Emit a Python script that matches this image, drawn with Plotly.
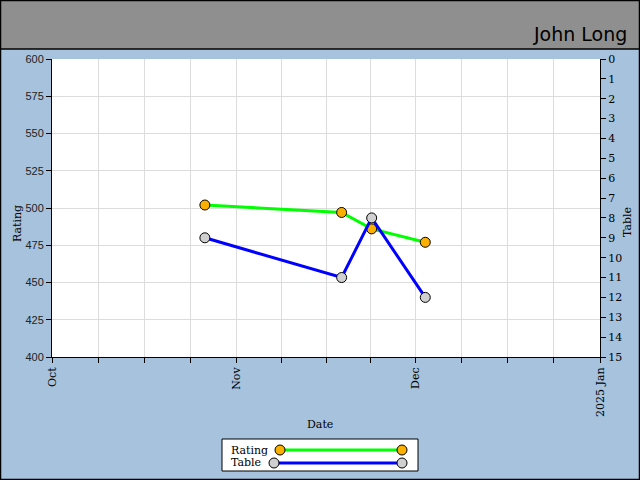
import plotly.graph_objects as go

# ---- data ----
dates = ["2024-10-26 16:00", "2024-11-18 15:00", "2024-11-23 16:00", "2024-12-02 16:00"]
rating = [502, 497, 486, 477]
table = [9, 11, 8, 12]

x_tickvals = ["2024-10-01", "2024-10-08 18:00", "2024-10-16 12:00", "2024-10-24 06:00",
              "2024-11-01", "2024-11-08 12:00", "2024-11-16", "2024-11-23 12:00",
              "2024-12-01", "2024-12-08 18:00", "2024-12-16 12:00", "2024-12-24 06:00",
              "2025-01-01"]
x_ticktext = ["Oct", "", "", "", "Nov", "", "", "", "Dec", "", "", "", "2025 Jan"]
title_text = "John Long"

# ---- geometry helpers (pixel -> paper) ----
W, H = 640, 480
L, R, T, B = 52, 40, 59, 123
PW, PH = W - L - R, H - T - B
def px(x): return (x - L) / PW
def py(y): return (H - B - y) / PH

BG = "#a6c2dc"
SERIF = "DejaVu Serif"
SANS = "Liberation Sans"
GREEN, BLUE = "#00ff00", "#0000ff"
ORANGE, GREY = "#fbb000", "#d0d0d0"

fig = go.Figure()
fig.add_trace(go.Scatter(x=dates, y=rating, mode="lines+markers", name="Rating",
                         line=dict(color=GREEN, width=3),
                         marker=dict(size=10, color=ORANGE, line=dict(color="black", width=1)),
                         yaxis="y"))
fig.add_trace(go.Scatter(x=dates, y=table, mode="lines+markers", name="Table",
                         line=dict(color=BLUE, width=3),
                         marker=dict(size=10, color=GREY, line=dict(color="black", width=1)),
                         yaxis="y2"))

fig.update_layout(
    width=W, height=H,
    margin=dict(l=L, r=R, t=T, b=B, pad=0, autoexpand=False),
    paper_bgcolor=BG, plot_bgcolor="white",
    showlegend=False,
    xaxis=dict(type="date", range=["2024-10-01", "2025-01-01"], automargin=False,
               tickmode="array", tickvals=x_tickvals, ticktext=x_ticktext,
               tickangle=-90, ticks="outside", ticklen=5, tickcolor="black",
               tickfont=dict(family=SERIF, size=11, color="black"),
               showline=True, linecolor="black", linewidth=1,
               showgrid=True, gridcolor="#dcdcdc", gridwidth=1, zeroline=False),
    yaxis=dict(range=[400, 600], dtick=25, tick0=400, ticks="outside", ticklen=5,
               automargin=False,
               tickcolor="black", tickfont=dict(family=SANS, size=11, color="#222"),
               showline=True, linecolor="black", linewidth=1,
               showgrid=True, gridcolor="#dcdcdc", zeroline=False),
    yaxis2=dict(range=[15, 0], dtick=1, tick0=0, overlaying="y", side="right",
                automargin=False,
                ticks="outside", ticklen=5, tickcolor="black",
                tickfont=dict(family=SERIF, size=11, color="black"),
                showline=True, linecolor="black", linewidth=1,
                showgrid=False, zeroline=False),
)

shapes = [
    # title bar
    dict(type="rect", xref="paper", yref="paper", x0=px(0), x1=px(640), y0=py(49), y1=py(0),
         fillcolor="#8f8f8f", line=dict(width=0), layer="below"),
    dict(type="line", xref="paper", yref="paper", x0=px(0), x1=px(640), y0=py(49), y1=py(49),
         line=dict(color="black", width=1.5)),
    # outer border
    dict(type="rect", xref="paper", yref="paper", x0=px(0.5), x1=px(639.5), y0=py(479.5), y1=py(0.5),
         line=dict(color="black", width=1.5)),
    # legend box
    dict(type="rect", xref="paper", yref="paper", x0=px(222), x1=px(418), y0=py(471), y1=py(439),
         fillcolor="white", line=dict(color="black", width=1)),
    dict(type="line", xref="paper", yref="paper", x0=px(280), x1=px(402), y0=py(450), y1=py(450),
         line=dict(color=GREEN, width=3)),
    dict(type="line", xref="paper", yref="paper", x0=px(274), x1=px(402), y0=py(463), y1=py(463),
         line=dict(color=BLUE, width=3)),
]
for cx, cy, col in [(280, 450, ORANGE), (402, 450, ORANGE), (274, 463, GREY), (402, 463, GREY)]:
    shapes.append(dict(type="circle", xref="paper", yref="paper",
                       x0=px(cx - 5), x1=px(cx + 5), y0=py(cy + 5), y1=py(cy - 5),
                       fillcolor=col, line=dict(color="black", width=1)))
fig.update_layout(shapes=shapes)

annotations = [
    dict(text=title_text, xref="paper", yref="paper", x=px(629), y=py(34),
         xanchor="right", yanchor="middle", showarrow=False,
         font=dict(family="DejaVu Sans", size=19, color="black")),
    dict(text="Date", xref="paper", yref="paper", x=px(320), y=py(425),
         xanchor="center", yanchor="middle", showarrow=False,
         font=dict(family=SERIF, size=11, color="black")),
    dict(text="Rating", xref="paper", yref="paper", x=px(18), y=py(224), textangle=-90,
         xanchor="center", yanchor="middle", showarrow=False,
         font=dict(family=SERIF, size=11, color="black")),
    dict(text="Table", xref="paper", yref="paper", x=px(627), y=py(222), textangle=-90,
         xanchor="center", yanchor="middle", showarrow=False,
         font=dict(family=SERIF, size=11, color="black")),
    dict(text="Rating", xref="paper", yref="paper", x=px(229), y=py(450),
         xanchor="left", yanchor="middle", showarrow=False,
         font=dict(family=SERIF, size=11, color="black")),
    dict(text="Table", xref="paper", yref="paper", x=px(229), y=py(462),
         xanchor="left", yanchor="middle", showarrow=False,
         font=dict(family=SERIF, size=11, color="black")),
]
fig.update_layout(annotations=annotations)

fig.write_html("out.html",
               config={"displayModeBar": False, "responsive": False},
               post_script=("document.documentElement.style.margin='0';"
                            "document.documentElement.style.overflow='hidden';"
                            "document.body.style.margin='0';"
                            "document.body.style.overflow='hidden';"))
